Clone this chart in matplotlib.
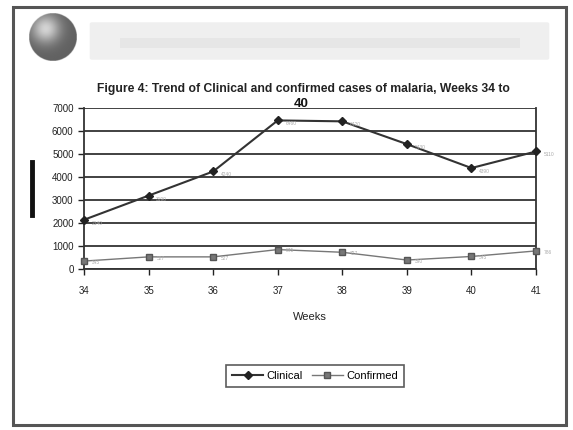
import matplotlib.pyplot as plt
import matplotlib.patches as mpatches
from matplotlib.lines import Line2D
import numpy as np

# 周次与病例数
weeks = [34, 35, 36, 37, 38, 39, 40, 41]
clinical = [2140, 3190, 4240, 6460, 6420, 5430, 4390, 5110]
confirmed = [345, 527, 527, 845, 727, 390, 545, 786]
y_ticks = [0, 1000, 2000, 3000, 4000, 5000, 6000, 7000]

W, H = 573, 430
fig = plt.figure(figsize=(W / 100, H / 100), dpi=100)
fig.patch.set_facecolor('white')
plt.rcParams['font.family'] = ['Liberation Sans', 'DejaVu Sans']


def fx(px):
    return px / W


def fy(py):
    return 1 - py / H


# 外框
fig.patches.append(mpatches.Rectangle((fx(13), fy(425)), fx(553), 418 / H,
                                      transform=fig.transFigure, fill=False,
                                      edgecolor='#555555', linewidth=2.2))

# 左上角的球形图标
ax_ball = fig.add_axes([fx(29), fy(61), fx(48), 48 / H])
g = np.linspace(-1, 1, 200)
xx, yy = np.meshgrid(g, g)
r = np.sqrt(xx ** 2 + yy ** 2)
shade = 0.38 + 0.45 * np.exp(-((xx + 0.3) ** 2 + (yy + 0.35) ** 2) / 0.35)
img = np.where(r <= 1, shade, 1.0)
ax_ball.imshow(img, cmap='gray', vmin=0, vmax=1, interpolation='bilinear')
ax_ball.axis('off')

# 顶部浅灰色横幅
fig.patches.append(mpatches.FancyBboxPatch((fx(92), fy(58)), fx(455), 34 / H,
                                           boxstyle='round,pad=0.004',
                                           transform=fig.transFigure,
                                           facecolor='#efefef', edgecolor='none'))
fig.patches.append(mpatches.Rectangle((fx(120), fy(48)), fx(400), 10 / H,
                                      transform=fig.transFigure,
                                      facecolor='#e6e6e6', edgecolor='none'))

# 左侧竖条
fig.lines.append(Line2D([fx(32), fx(32)], [fy(162), fy(215)],
                        transform=fig.transFigure, color='#111111', linewidth=3.5))

# 标题
fig.text(fx(303), fy(89), 'Figure 4: Trend of Clinical and confirmed cases of malaria, Weeks 34 to',
         ha='center', va='center', fontsize=8.7, fontweight='bold', color='#222222')
fig.text(fx(301), fy(104), '40', ha='center', va='center', fontsize=9.5,
         fontweight='bold', color='#111111')

# 主图
ax = fig.add_axes([fx(84), fy(269), fx(452), 161 / H])
ax.set_xlim(34, 41)
ax.set_ylim(0, 7000)
ax.set_yticks(y_ticks)
ax.set_xticks(weeks)
ax.set_xticklabels([str(w) for w in weeks])
ax.yaxis.grid(True, color='#333333', linewidth=1.3)
ax.set_axisbelow(True)
for side in ['left', 'right', 'bottom']:
    ax.spines[side].set_color('#333333')
    ax.spines[side].set_linewidth(1.3)
ax.spines['top'].set_visible(False)
ax.tick_params(axis='both', labelsize=7, colors='#222222', length=4, width=1)
ax.tick_params(axis='x', pad=8)

l1, = ax.plot(weeks, clinical, color='#333333', linewidth=1.5, marker='D',
              markersize=4.5, markerfacecolor='#222222', markeredgecolor='#222222',
              label='Clinical', clip_on=False, zorder=3)
l2, = ax.plot(weeks, confirmed, color='#777777', linewidth=1.0, marker='s',
              markersize=5, markerfacecolor='#777777', markeredgecolor='#555555',
              label='Confirmed', clip_on=False, zorder=3)

# 数据标签
for w, v in zip(weeks, clinical):
    ax.text(w + 0.12, v - 150, str(v), fontsize=3.5, color='#aaaaaa',
            ha='left', va='center')
for w, v in zip(weeks, confirmed):
    ax.text(w + 0.12, v - 60, str(v), fontsize=3.5, color='#aaaaaa',
            ha='left', va='center')

ax.set_xlabel('Weeks', fontsize=8, color='#222222', labelpad=12)

leg = fig.legend(handles=[l1, l2], loc='center', bbox_to_anchor=(fx(315), fy(376)),
                 ncol=2, frameon=True, fancybox=False,
                 handlelength=2.8, columnspacing=0.8, handletextpad=0.3,
                 borderpad=0.55, prop={'size': 8})
leg.get_frame().set_edgecolor('#333333')
leg.get_frame().set_linewidth(1.2)

fig.savefig('out.png', dpi=100, facecolor='white')
